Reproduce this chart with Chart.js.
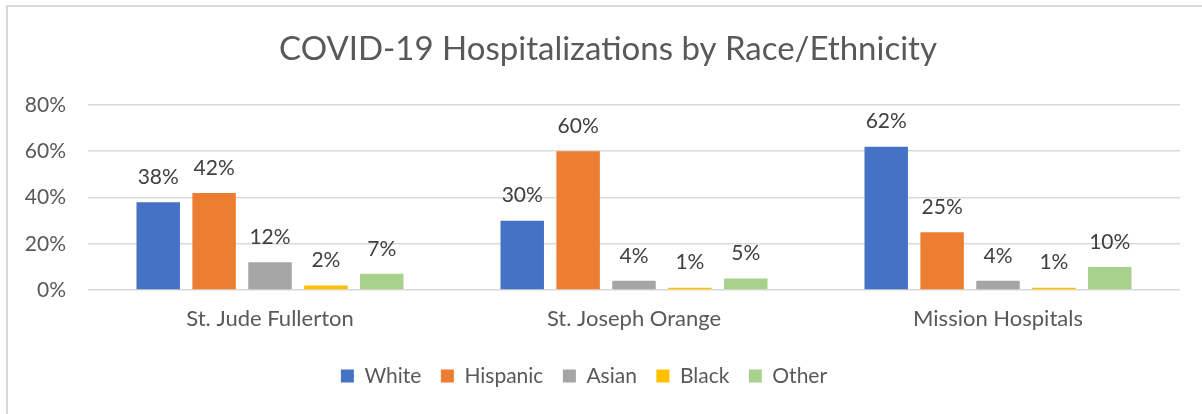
<!DOCTYPE html>
<html>
<head>
<meta charset="utf-8">
<script src="https://cdn.jsdelivr.net/npm/chart.js@4"></script>
<style>
html,body{margin:0;padding:0;background:#fff;}
#wrap{position:absolute;left:0;top:0;width:1202px;height:414px;}
</style>
</head>
<body>
<div id="wrap"><canvas id="c" width="1202" height="414"></canvas></div>
<script>
const categories = ["St. Jude Fullerton", "St. Joseph Orange", "Mission Hospitals"];
const white    = [38, 30, 62];
const hispanic = [42, 60, 25];
const asian    = [12, 4, 4];
const black    = [2, 1, 1];
const other    = [7, 5, 10];
const yTicks   = [0, 20, 40, 60, 80];

const FONT = "Lato, 'Open Sans', sans-serif";

const frame = {
  id: 'frame',
  beforeDraw(chart) {
    const ctx = chart.ctx;
    ctx.save();
    ctx.fillStyle = '#fff';
    ctx.fillRect(0, 0, chart.width, chart.height);
    ctx.strokeStyle = '#d9d9d9';
    ctx.lineWidth = 2;
    ctx.beginPath();
    ctx.moveTo(7, 414);
    ctx.lineTo(7, 6);
    ctx.lineTo(1202, 6);
    ctx.stroke();
    ctx.restore();
  }
};

// nudge title / legend horizontally to match the reference placement
const nudge = {
  id: 'nudge',
  afterLayout(chart) {
    if (chart.titleBlock) { chart.titleBlock.left += 29; }
    if (chart.legend) { chart.legend.left -= 19; }
  }
};

const valueLabels = {
  id: 'valueLabels',
  afterDatasetsDraw(chart) {
    const ctx = chart.ctx;
    ctx.save();
    ctx.font = "21px " + FONT;
    ctx.fillStyle = '#404040';
    ctx.textAlign = 'center';
    ctx.textBaseline = 'middle';
    chart.data.datasets.forEach((ds, i) => {
      const meta = chart.getDatasetMeta(i);
      meta.data.forEach((bar, j) => {
        ctx.fillText(ds.data[j] + '%', bar.x, bar.y - 25);
      });
    });
    ctx.restore();
  }
};

new Chart(document.getElementById('c'), {
  type: 'bar',
  data: {
    labels: categories,
    datasets: [
      {label: 'White', data: white, backgroundColor: '#4472C4'},
      {label: 'Hispanic', data: hispanic, backgroundColor: '#ED7D31'},
      {label: 'Asian', data: asian, backgroundColor: '#A5A5A5'},
      {label: 'Black', data: black, backgroundColor: '#FFC000'},
      {label: 'Other', data: other, backgroundColor: '#A9D18E'}
    ]
  },
  options: {
    responsive: false,
    animation: false,
    devicePixelRatio: 1,
    datasets: {bar: {categoryPercentage: 0.7676, barPercentage: 0.778}},
    layout: {padding: {left: 7, right: 22, top: 30, bottom: 17.5}},
    plugins: {
      title: {
        display: true,
        text: 'COVID-19 Hospitalizations by Race/Ethnicity',
        color: '#595959',
        font: {family: FONT, size: 33, weight: 'normal'},
        padding: {top: 0, bottom: 35.4}
      },
      legend: {
        position: 'bottom',
        labels: {
          color: '#595959',
          font: {family: FONT, size: 21},
          boxWidth: 13, boxHeight: 13,
          padding: 19.5
        }
      },
      tooltip: {enabled: false}
    },
    scales: {
      x: {
        grid: {display: false, drawTicks: false},
        border: {display: false},
        afterFit(scale) { scale.height = 56; },
        ticks: {color: '#595959', font: {family: FONT, size: 22}, padding: 16}
      },
      y: {
        min: 0, max: 80,
        afterBuildTicks(scale) { scale.ticks = yTicks.map(v => ({value: v})); },
        afterFit(scale) { scale.width = 81; },
        grid: {color: '#d9d9d9', lineWidth: 1.6, drawTicks: false},
        border: {display: false},
        ticks: {color: '#595959', font: {family: FONT, size: 21}, padding: 22,
          callback: v => v + '%'}
      }
    }
  },
  plugins: [frame, nudge, valueLabels]
});
</script>
</body>
</html>
